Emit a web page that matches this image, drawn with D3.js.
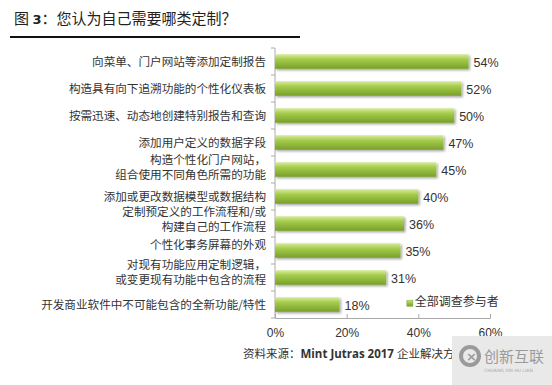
<!DOCTYPE html>
<html>
<head>
<meta charset="utf-8">
<script src="https://cdn.jsdelivr.net/npm/d3@7"></script>
<style>
  body { margin: 0; background: #fff; }
  svg { display: block; }
</style>
</head>
<body>
<svg id="svg" width="552" height="385"></svg>
<script>
// data
var categories = [
    ["向菜单、门户网站等添加定制报告"],
    ["构造具有向下追溯功能的个性化仪表板"],
    ["按需迅速、动态地创建特别报告和查询"],
    ["添加用户定义的数据字段"],
    ["构造个性化门户网站，", "组合使用不同角色所需的功能"],
    ["添加或更改数据模型或数据结构"],
    ["定制预定义的工作流程和/或", "构建自己的工作流程"],
    ["个性化事务屏幕的外观"],
    ["对现有功能应用定制逻辑，", "或变更现有功能中包含的流程"],
    ["开发商业软件中不可能包含的全新功能/特性"]
];
var values = [54, 52, 50, 47, 45, 40, 36, 35, 31, 18];
var xTicks = [0, 20, 40, 60];
var seriesName = "全部调查参与者";

var svg = d3.select("#svg");
var cjk = "'Noto Sans CJK SC', 'Noto Sans', sans-serif";

var padding = {top: 48, left: 275, right: 62, bottom: 67};
var chartArea = {
    width: 552 - padding.left - padding.right,
    height: 385 - padding.top - padding.bottom
};

var xScale = d3.scaleLinear().domain([0, 60]).range([0, chartArea.width]);
var yScale = d3.scaleBand()
    .domain(d3.range(categories.length))
    .range([0, chartArea.height])
    .paddingInner(0.46).paddingOuter(0.23);

// gradient + shadow for bars
var defs = svg.append("defs");
var grad = defs.append("linearGradient").attr("id", "barGrad")
    .attr("x1", 0).attr("y1", 0).attr("x2", 0).attr("y2", 1);
grad.append("stop").attr("offset", "0%").attr("stop-color", "#d8ec9e");
grad.append("stop").attr("offset", "35%").attr("stop-color", "#a6cc4c");
grad.append("stop").attr("offset", "100%").attr("stop-color", "#77a02a");
var shadow = defs.append("filter").attr("id", "shadow")
    .attr("x", "-5%").attr("y", "-30%").attr("width", "115%").attr("height", "180%");
shadow.append("feDropShadow").attr("dx", 1.5).attr("dy", 1.5)
    .attr("stdDeviation", 1).attr("flood-color", "#000").attr("flood-opacity", 0.35);

// title
var title = svg.append("text").attr("x", 14).attr("y", 24)
    .attr("font-family", cjk).attr("font-size", 15).attr("fill", "#222");
title.append("tspan").text("图 ");
title.append("tspan").attr("font-weight", "bold").attr("font-family", "'DejaVu Sans', sans-serif").attr("font-size", 13).text("3");
title.append("tspan").text("：您认为自己需要哪类定制？");
svg.append("line").attr("x1", 10).attr("x2", 300).attr("y1", 37).attr("y2", 37)
    .attr("stroke", "#111").attr("stroke-width", 2);

var g = svg.append("g").attr("transform", "translate(" + padding.left + "," + padding.top + ")");

// x axis
var xAxis = g.append("g")
    .attr("transform", "translate(0," + chartArea.height + ")")
    .call(d3.axisBottom(xScale).tickValues(xTicks).tickSize(-4).tickPadding(10)
        .tickFormat(function(d) { return d + "%"; }));
xAxis.select(".domain").attr("stroke", "#aaa");
xAxis.selectAll(".tick line").attr("stroke", "#aaa");
xAxis.selectAll("text").attr("font-family", "'Liberation Sans', Arial, sans-serif")
    .attr("font-size", 12).attr("fill", "#333");

// y axis line + boundary ticks
g.append("line").attr("x1", 0).attr("x2", 0).attr("y1", 0).attr("y2", chartArea.height)
    .attr("stroke", "#aaa");
var step = chartArea.height / categories.length;
g.selectAll(".ytick").data(d3.range(categories.length + 1)).enter()
    .append("line")
    .attr("x1", -4).attr("x2", 0)
    .attr("y1", function(d) { return d * step; })
    .attr("y2", function(d) { return d * step; })
    .attr("stroke", "#aaa");

// bars
g.selectAll("rect.bar").data(values).enter()
    .append("rect").attr("class", "bar")
    .attr("x", 0)
    .attr("y", function(d, i) { return yScale(i); })
    .attr("width", function(d) { return xScale(d); })
    .attr("height", yScale.bandwidth())
    .attr("fill", "url(#barGrad)")
    .attr("filter", "url(#shadow)");

// value labels
g.selectAll("text.val").data(values).enter()
    .append("text").attr("class", "val")
    .attr("x", function(d) { return xScale(d) + 5; })
    .attr("y", function(d, i) { return yScale(i) + yScale.bandwidth() / 2 + 5; })
    .attr("font-family", "'Liberation Sans', Arial, sans-serif")
    .attr("font-size", 12.5).attr("fill", "#333")
    .text(function(d) { return d + "%"; });

// category labels
var labelOffset = [0, 0, 0, 0, -2, 0, -4, -6, -5, 0];
g.selectAll("text.cat").data(categories).enter()
    .append("text").attr("class", "cat")
    .attr("text-anchor", "end")
    .attr("font-family", cjk).attr("font-size", 11.6).attr("fill", "#333")
    .each(function(lines, i) {
        var cy = yScale(i) + yScale.bandwidth() / 2 + labelOffset[i];
        var t = d3.select(this);
        var lh = 15.5;
        lines.forEach(function(s, j) {
            t.append("tspan").attr("x", -9)
                .attr("y", cy + 4 + (j - (lines.length - 1) / 2) * lh)
                .text(s);
        });
    });

// legend
var leg = g.append("g").attr("transform", "translate(" + (xScale(36.8)) + "," + (yScale(9) - 3) + ")");
leg.append("rect").attr("x", 0).attr("y", 6).attr("width", 6).attr("height", 6)
    .attr("fill", "url(#barGrad)").attr("stroke", "#77a02a").attr("stroke-width", 0.5);
leg.append("text").attr("x", 8).attr("y", 12)
    .attr("font-family", cjk).attr("font-size", 12).attr("fill", "#333").text(seriesName);

// source
var src = svg.append("text").attr("x", 243).attr("y", 358)
    .attr("font-size", 11.5).attr("fill", "#333");
src.append("tspan").attr("font-family", cjk).text("资料来源：");
src.append("tspan").attr("font-family", "'Open Sans', 'DejaVu Sans', sans-serif").attr("font-weight", "bold").text("Mint Jutras 2017 ");
src.append("tspan").attr("font-family", cjk).text("企业解决方案");

// watermark box
var wm = svg.append("g").attr("transform", "translate(452,336)");
wm.append("rect").attr("width", 100).attr("height", 49).attr("fill", "#e9e9e9");
wm.append("circle").attr("cx", 18).attr("cy", 20).attr("r", 9)
    .attr("fill", "none").attr("stroke", "#9a9a9a").attr("stroke-width", 4);
wm.append("text").attr("x", 14).attr("y", 25).attr("font-family", "'DejaVu Sans', sans-serif")
    .attr("font-weight", "bold").attr("font-size", 13).attr("fill", "#9a9a9a").text("×");
wm.append("text").attr("x", 32).attr("y", 26).attr("font-family", cjk)
    .attr("font-size", 15).attr("fill", "#9a9a9a").text("创新互联");
wm.append("text").attr("x", 32).attr("y", 36).attr("font-family", "'DejaVu Sans', sans-serif")
    .attr("font-size", 4.5).attr("fill", "#aaa").text("CHUANG XIN HU LIAN");
</script>
</body>
</html>
